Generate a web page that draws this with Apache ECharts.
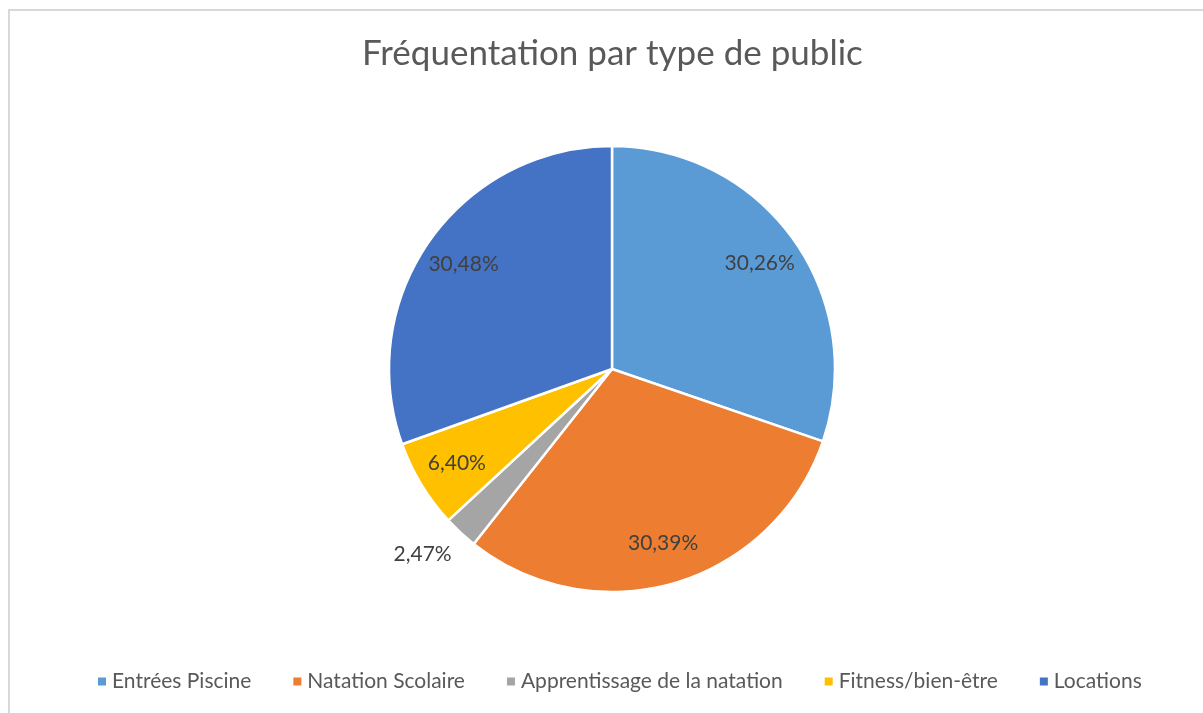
<!DOCTYPE html>
<html>
<head>
<meta charset="utf-8">
<script src="https://cdn.jsdelivr.net/npm/echarts@6/dist/echarts.min.js"></script>
<style>
  html, body { margin: 0; padding: 0; background: #fff; overflow: hidden; }
  #frame {
    position: absolute; left: 8px; top: 9px; width: 1220px; height: 730px;
    border-top: 2px solid #d9d9d9; border-left: 2px solid #d9d9d9;
  }
  #chart { position: absolute; left: 0; top: 0; width: 1203px; height: 713px; }
</style>
</head>
<body>
<div id="frame"></div>
<div id="chart"></div>
<script>
// catégories et parts (%)
const categories = ["Entrées Piscine", "Natation Scolaire", "Apprentissage de la natation", "Fitness/bien-être", "Locations"];
const values = [30.26, 30.39, 2.47, 6.40, 30.48];
const colors = ["#5B9BD5", "#ED7D31", "#A5A5A5", "#FFC000", "#4472C4"];

const fontFam = "Lato, 'Open Sans', sans-serif";

function fmt(v) {
  return v.toFixed(2).replace(".", ",") + "%";
}

let myChart = echarts.init(document.getElementById("chart"));

myChart.setOption({
  animation: false,
  title: {
    text: "Fréquentation par type de public",
    left: 362,
    top: 36,
    padding: 0,
    textStyle: { color: "#595959", fontSize: 35, fontWeight: "normal", fontFamily: fontFam },
  },
  legend: {
    bottom: 21,
    left: 96,
    padding: 0,
    itemWidth: 10,
    itemHeight: 10,
    itemGap: 40,
    icon: "rect",
    textStyle: { color: "#595959", fontSize: 21, fontFamily: fontFam },
    data: categories,
  },
  series: [
    {
      type: "pie",
      center: [612, 369],
      radius: [0, 223],
      startAngle: 90,
      clockwise: true,
      itemStyle: { borderColor: "#fff", borderWidth: 2.5 },
      label: { show: false },
      labelLine: { show: false },
      data: categories.map((c, i) => ({
        name: c,
        value: values[i],
        itemStyle: { color: colors[i] },
      })),
    },
    {
      // anneau transparent pour placer les étiquettes
      type: "pie",
      center: [612, 369],
      radius: [134, 223],
      startAngle: 90,
      clockwise: true,
      silent: true,
      legendHoverLink: false,
      itemStyle: { color: "rgba(0,0,0,0)" },
      label: {
        show: true,
        position: "inside",
        color: "#404040",
        fontSize: 21,
        lineHeight: 24,
        fontFamily: fontFam,
        formatter: (p) => (p.dataIndex === 2 ? "\n" : "") + fmt(p.value),
      },
      labelLine: { show: false },
      data: categories.map((c, i) => {
        let d = { name: "lbl" + i, value: values[i] };
        if (i === 2) {
          d.label = { position: "outside", distanceToLabelLine: 0 };
          d.labelLine = { show: false, length: 13, length2: 0 };
        }
        return d;
      }),
    },
  ],
});
</script>
</body>
</html>
